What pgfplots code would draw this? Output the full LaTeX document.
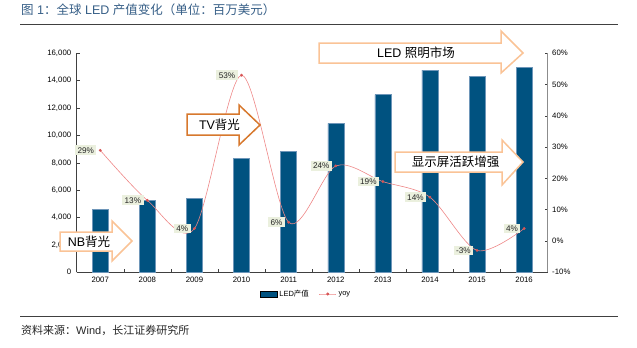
\documentclass[border=0pt]{standalone}
\usepackage{fontspec}
\setmainfont{Liberation Sans}
\newfontfamily\cjk{Noto Sans CJK SC}
\usepackage{pgfplots}
\pgfplotsset{compat=1.18}
\definecolor{barblue}{RGB}{0,82,128}
\definecolor{baredge}{RGB}{110,150,185}
\definecolor{yoyline}{RGB}{238,135,135}
\definecolor{yoymark}{RGB}{215,85,85}
\definecolor{lblbg}{RGB}{235,240,222}
\definecolor{lorange}{RGB}{250,195,150}
\definecolor{dorange}{RGB}{215,120,45}
\definecolor{titleblue}{RGB}{55,95,135}
\definecolor{axisdark}{RGB}{64,64,64}
\definecolor{axisgray}{RGB}{140,140,140}
\newcommand\tickfont{\fontsize{7.8bp}{8.5bp}\selectfont}
\newcommand\arrowfont{\fontsize{12.5bp}{14bp}\selectfont}
\begin{document}
\begin{tikzpicture}[x=1bp,y=1bp]
\path[use as bounding box] (0,0) rectangle (637,-347);
% primary axis: bars
\begin{axis}[
  at={(76.7bp,-272.3bp)}, anchor=south west,
  width=471bp, height=219bp, scale only axis,
  xmin=-0.5, xmax=9.5, ymin=0, ymax=16000,
  axis x line*=bottom, axis y line*=left,
  axis line style={color=axisdark, line width=0.7bp},
  /pgf/number format/assume math mode=true,
  /pgf/number format/1000 sep={,},
  scaled y ticks=false,
  ytick={0,2000,...,16000},
  xtick={-0.5,0.5,...,9.5},
  x tick label as interval,
  xticklabels={2007,2008,2009,2010,2011,2012,2013,2014,2015,2016},
  tick align=inside,
  major tick length=3bp,
  tick style={color=axisdark, line width=0.6bp},
  tick label style={font=\tickfont},
  xticklabel style={yshift=-1bp},
  yticklabel style={xshift=-2bp},
  clip=false,
]
\addplot[ybar, bar width=16bp, fill=barblue, draw=baredge, line width=0.4bp]
  coordinates {(0,4620) (1,5255) (2,5420) (3,8320) (4,8830) (5,10880) (6,12990) (7,14770) (8,14330) (9,14985)};
\end{axis}
% secondary axis: yoy
\begin{axis}[
  at={(76.7bp,-272.3bp)}, anchor=south west,
  width=471bp, height=219bp, scale only axis,
  xmin=-0.5, xmax=9.5, ymin=-10, ymax=60,
  axis y line*=right, axis x line=none,
  axis line style={color=axisgray, line width=0.7bp},
  /pgf/number format/assume math mode=true,
  ytick={-10,0,...,60},
  yticklabel={\pgfmathprintnumber{\tick}\%},
  tick align=inside,
  major tick length=3bp,
  tick style={color=axisdark, line width=0.6bp},
  tick label style={font=\tickfont},
  yticklabel style={xshift=1bp},
  clip=false,
  legend style={at={(0.487,-0.099)}, anchor=center, draw=none, fill=none,
    legend columns=2, font=\fontsize{7.5bp}{8.5bp}\selectfont,
    /tikz/every even column/.append style={column sep=8bp},
    inner sep=1bp},
]
\addlegendimage{area legend, fill=barblue, draw=none}
\addlegendentry{LED{\cjk 产值}}
\addplot[smooth, tension=0.5, color=yoyline, line width=0.6bp,
  mark=*, mark size=1.1bp, mark options={fill=yoymark, draw=yoymark},
  point meta=explicit symbolic, nodes near coords,
  nodes near coords style={anchor=east, xshift=-3.5bp, fill=lblbg, text=black!85,
    inner xsep=2.5bp, inner ysep=2bp, font=\fontsize{8.2bp}{9bp}\selectfont}]
  coordinates {(0,29)[29\%] (1,13)[13\%] (2,4)[4\%] (3,53)[53\%] (4,6)[6\%]
               (5,24)[24\%] (6,19)[19\%] (7,14)[14\%] (8,-3)[-3\%] (9,4)[4\%]};
\addlegendentry{yoy}
\end{axis}
% annotation arrows
\draw[lorange, line width=1.5bp, fill=white, line join=miter]
  (60,-232) -- (112,-232) -- (112,-221) -- (132,-241) -- (112,-261) -- (112,-251) -- (60,-251) -- cycle;
\node[font=\arrowfont] at (89,-242) {NB{\cjk 背光}};
\draw[dorange, line width=1.5bp, fill=white, line join=miter]
  (187,-114) -- (239,-114) -- (239,-105) -- (260,-125) -- (239,-145) -- (239,-135) -- (187,-135) -- cycle;
\node[font=\arrowfont] at (219.5,-125) {TV{\cjk 背光}};
\draw[lorange, line width=1.5bp, fill=white, line join=miter]
  (319,-43) -- (501,-43) -- (501,-31) -- (523,-53) -- (501,-73) -- (501,-63) -- (319,-63) -- cycle;
\node[font=\arrowfont] at (416,-53) {LED {\cjk 照明市场}};
\draw[lorange, line width=1.5bp, fill=white, line join=miter]
  (395,-152) -- (502,-152) -- (502,-140) -- (523,-162) -- (502,-185) -- (502,-172) -- (395,-172) -- cycle;
\node[font=\arrowfont] at (455.5,-162) {{\cjk 显示屏活跃增强}};
% title and footer
\node[anchor=west, inner sep=0pt, text=titleblue, font=\fontsize{12.5bp}{14bp}\selectfont]
  at (21,-10) {{\cjk 图} 1{\cjk ：全球} LED {\cjk 产值变化（单位：百万美元）}};
\draw[axisdark, line width=0.9bp] (20,-24.5) -- (618,-24.5);
\draw[axisdark, line width=0.9bp] (20,-316.5) -- (618,-316.5);
\node[anchor=west, inner sep=0pt, text=black!85, font=\fontsize{11bp}{13bp}\selectfont]
  at (21,-330) {{\cjk 资料来源：}Wind{\cjk ，长江证券研究所}};
\end{tikzpicture}
\end{document}
